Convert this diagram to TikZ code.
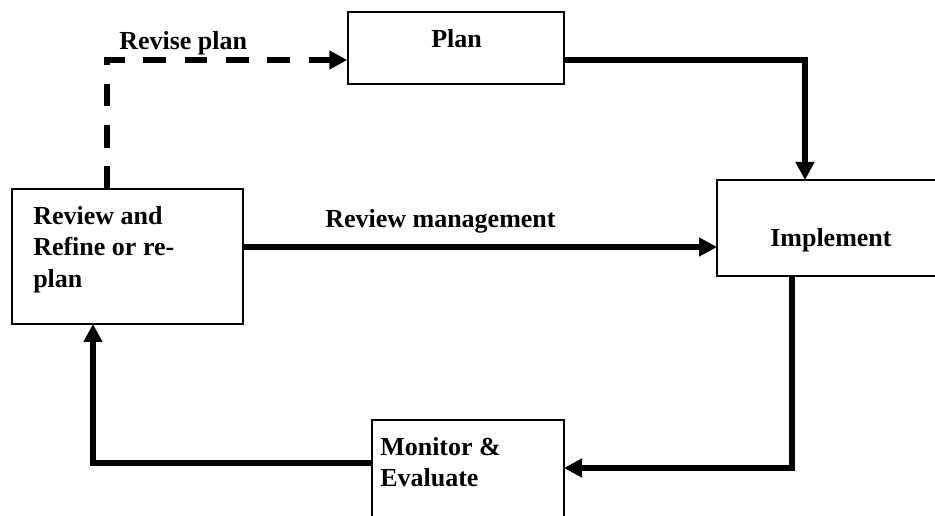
\documentclass[tikz,border=0pt]{standalone}
\usepackage{fontspec}
\setmainfont{Liberation Serif}
\usetikzlibrary{arrows.meta,fit}
\begin{document}
\begin{tikzpicture}[x={(0.75pt,0)},y={(0,-0.75pt)},
  box/.style={draw,line width=1.1pt,inner sep=0pt},
  lbl/.style={font=\fontsize{19.5}{23.6}\selectfont\bfseries,inner sep=0pt,align=left},
  flow/.style={line width=4pt,-{Triangle[length=13.5pt,width=13.5pt]}},
  flowdash/.style={flow,dash pattern=on 17pt off 14pt}]
\clip (0,0) rectangle (935,516);
\useasboundingbox (0,0) rectangle (935,516);
% boxes
\node[box,fit={(348,12) (564,84)}] (plan) {};
\node[box,fit={(717,180) (940,276)}] (imp) {};
\node[box,fit={(12,189) (243,324)}] (rev) {};
\node[box,fit={(372,420) (564,540)}] (mon) {};
% texts
\node[lbl,anchor=base west] (tplan) at (431,48) {Plan};
\node[lbl,anchor=base west] (timp) at (770,247) {Implement};
\node[lbl,anchor=north west] (trev) at (33,206) {Review and\\Refine or re-\\plan};
\node[lbl,anchor=north west] (tmon) at (380,437) {Monitor \&\\Evaluate};
\node[lbl,anchor=base west] (trevise) at (119,50) {Revise plan};
\node[lbl,anchor=base west] (trm) at (325,228) {Review management};
% connector corner points
\coordinate (d1) at (107,189);
\coordinate (d2) at (107,60);
\coordinate (p1) at (564,60);
\coordinate (p2) at (805,60);
\coordinate (p3) at (805,180);
\coordinate (r1) at (243,247);
\coordinate (r2) at (717,247);
\coordinate (i1) at (792,276);
\coordinate (i2) at (792,468);
\coordinate (m1) at (564,468);
\coordinate (m2) at (372,463);
\coordinate (m3) at (93,463);
\coordinate (m4) at (93,324);
% connectors
\draw[flowdash] (d1) -- (d2) -- (plan.west |- d2);
\draw[flow] (p1) -- (p2) -- (p3);
\draw[flow] (r1) -- (r2);
\draw[flow] (i1) -- (i2) -- (m1);
\draw[flow] (m2) -- (m3) -- (m4);
\end{tikzpicture}
\end{document}
